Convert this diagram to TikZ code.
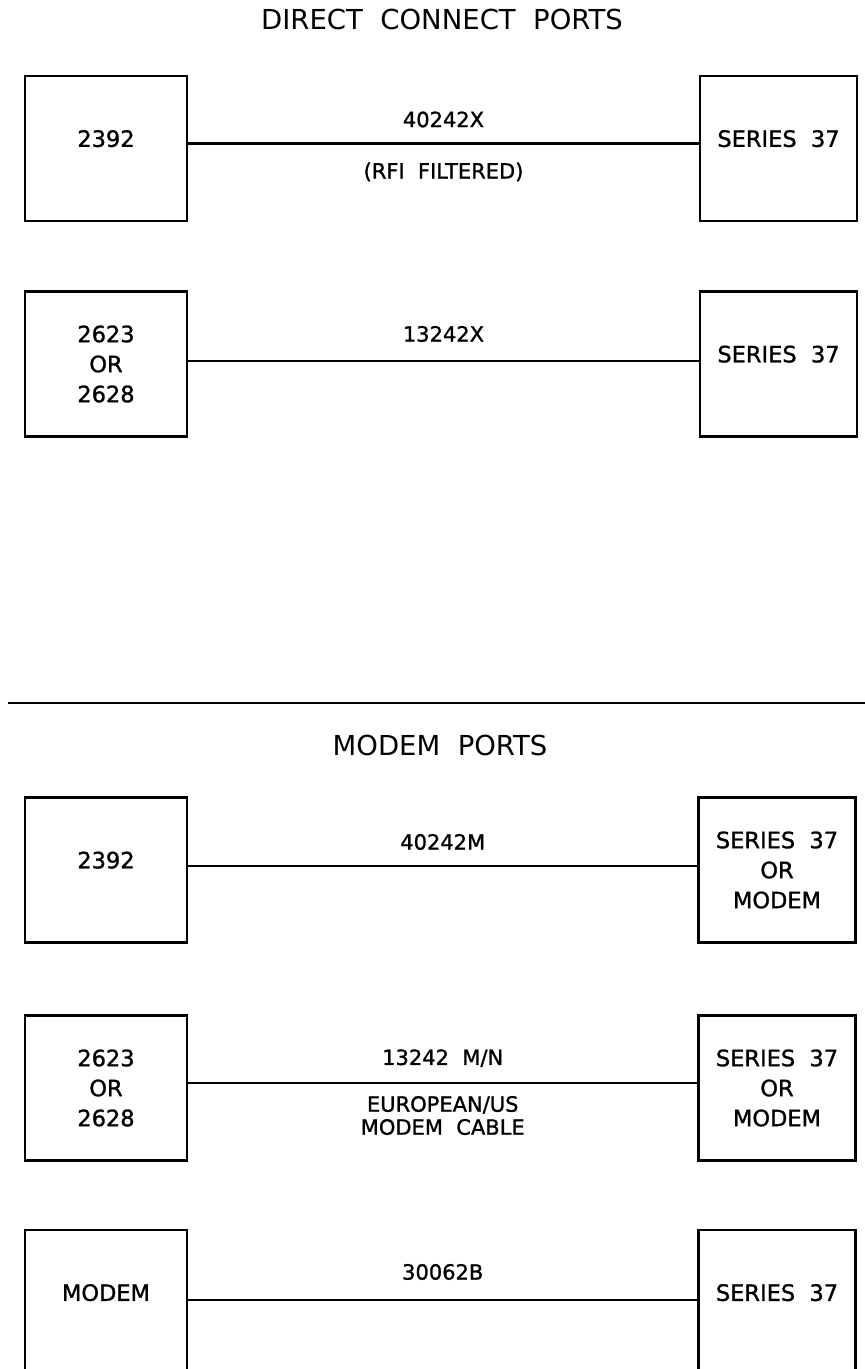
\documentclass[tikz,border=0pt]{standalone}
\usepackage{fontspec}
\setmainfont{DejaVu Sans}[WordSpace=2]
\newfontfamily\penfont{DejaVu Sans}[WordSpace=2, FakeBold=1.2]
\usepackage{tikz}
\usetikzlibrary{positioning}
\newcommand{\hdfont}{\fontsize{27.5}{32}\selectfont}
\newcommand{\unitfont}{\penfont\fontsize{22.5}{30}\selectfont}
\newcommand{\cblfont}{\penfont\fontsize{21}{23}\selectfont}

\begin{document}
\begin{tikzpicture}[x=1pt, y=-1pt]
    % Define styles
    \tikzstyle{unit} = [rectangle, draw=black, line width=2.2pt, minimum width=162pt, minimum height=145pt, align=center, font=\unitfont, inner sep=0pt]
    \tikzstyle{target} = [unit, minimum width=157pt]
    \tikzstyle{oneline} = [text depth=20pt]
    \tikzstyle{cable} = [line width=2.2pt]
    \tikzstyle{partno} = [font=\cblfont, inner sep=0pt, align=center]
    \tikzstyle{heading} = [font=\hdfont]

    \useasboundingbox (0,0) rectangle (865,1369);
    \clip (0,0) rectangle (865,1369);

    % Direct connect ports
    \node[heading] (direct) at (442,19) {DIRECT CONNECT PORTS};
    \node[unit, oneline] (term1) at (106,148.5) {2392};
    \node[target, oneline] (ser1) at (778.5,148.5) {SERIES 37};
    \node[unit] (term2) at (106,364) {2623\\OR\\2628};
    \node[target, oneline] (ser2) at (778.5,364) {SERIES 37};

    \draw[cable] ([yshift=5pt]term1.east) -- ([yshift=5pt]ser1.west) node[midway, above=15pt, partno] {40242X} node[midway, below=18pt, partno] {(RFI FILTERED)};
    \draw[cable] ([yshift=3pt]term2.east) -- ([yshift=3pt]ser2.west) node[midway, above=18pt, partno] {13242X};

    % Separator
    \draw[cable] (8,703) -- (865,703);

    % Modem ports
    \node[heading] (modem) at (440,745) {MODEM PORTS};
    \node[unit, oneline] (term3) at (106,870) {2392};
    \node[target] (ser3) at (777,870) {SERIES 37\\OR\\MODEM};
    \node[unit] (term4) at (106,1088) {2623\\OR\\2628};
    \node[target] (ser4) at (777,1088) {SERIES 37\\OR\\MODEM};
    \node[unit, oneline] (mdm) at (106,1302.5) {MODEM};
    \node[target, oneline] (ser5) at (777,1302.5) {SERIES 37};

    \draw[cable] ([yshift=4pt]term3.east) -- ([yshift=4pt]ser3.west) node[midway, above=15pt, partno] {40242M};
    \draw[cable] ([yshift=5pt]term4.east) -- ([yshift=5pt]ser4.west) node[midway, above=15pt, partno] {13242 M/N} node[midway, below=12pt, partno] {EUROPEAN/US\\MODEM CABLE};
    \draw[cable] ([yshift=2.5pt]mdm.east) -- ([yshift=2.5pt]ser5.west) node[midway, above=19pt, partno] {30062B};

\end{tikzpicture}
\end{document}
